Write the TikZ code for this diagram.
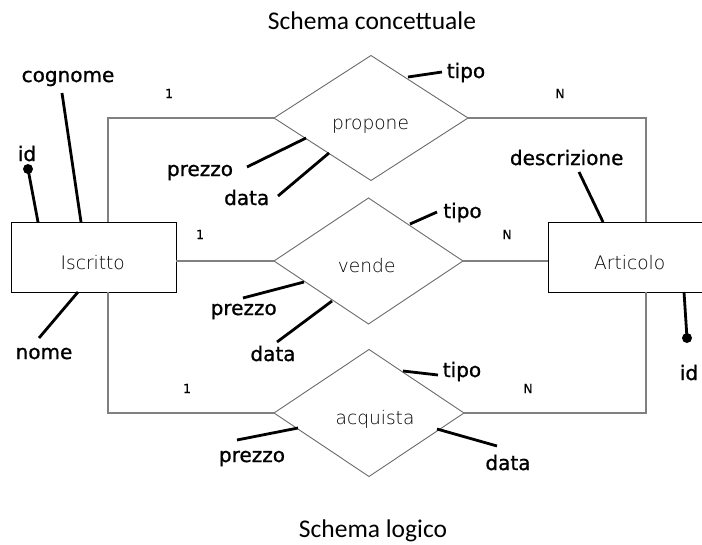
\documentclass[tikz,border=0pt]{standalone}
\usepackage{fontspec}
\usetikzlibrary{shapes.geometric}
\newfontfamily\titlefont{Carlito}
\newfontfamily\attrfont[FakeBold=1]{DejaVu Sans}
\newfontfamily\cardfont[FakeBold=0.6]{DejaVu Sans}
\IfFontExistsTF{DejaVu Sans ExtraLight}
  {\newfontfamily\thinfont{DejaVu Sans ExtraLight}}
  {\newfontfamily\thinfont{DejaVu Sans}}
\definecolor{connGray}{HTML}{808080}
\definecolor{shapeGray}{HTML}{6A6A6A}
\begin{document}
\begin{tikzpicture}[x=1pt,y=-1pt,
  entity/.style={draw=black, line width=1pt, minimum width=165pt, minimum height=70pt,
                 inner sep=0pt, outer sep=0pt},
  rel/.style={diamond, draw=shapeGray, line width=0.9pt, inner sep=0pt, outer sep=0pt},
  conn/.style={draw=connGray, line width=1.5pt},
  attr/.style={draw=black, line width=2.8pt},
  dotend/.style={circle, fill=black, inner sep=0pt, minimum size=10pt},
  shapetext/.style={anchor=base, inner sep=0pt, text=black,
                    font=\thinfont\fontsize{18.6}{18.6}\selectfont},
  alabel/.style={anchor=base, inner sep=0pt, font=\attrfont\fontsize{20}{20}\selectfont},
  card/.style={anchor=base, inner sep=0pt, font=\cardfont\fontsize{12.5}{12.5}\selectfont},
  title/.style={anchor=base, inner sep=0pt, font=\titlefont\fontsize{25.5}{25.5}\selectfont}]
\useasboundingbox (0,0) rectangle (702,544);
\clip (0,0) rectangle (702,544);

% titles
\node[title] (t1) at (372,29) {Schema concettuale};
\node[title] (t2) at (373,537) {Schema logico};

% entities
\node[entity] (isc) at (93.5,257) {};
\node[entity] (art) at (630.5,257) {};
\node[shapetext] (iscT) at (92.7,269) {Iscritto};
\node[shapetext] (artT) at (629.7,269) {Articolo};

% relationships
\node[rel, minimum width=194pt, minimum height=125pt] (prop) at (371,118) {};
\node[rel, minimum width=189pt, minimum height=126pt] (vend) at (368.5,261) {};
\node[rel, minimum width=190pt, minimum height=127pt] (acq) at (369,413) {};
\node[shapetext] (propT) at (370.5,129) {propone};
\node[shapetext] (vendT) at (366.7,272) {vende};
\node[shapetext] (acqT) at (375,424) {acquista};

% connector guide columns
\coordinate (colL) at (108,0);
\coordinate (colR) at (646,0);

% connectors
\draw[conn] (isc.north -| colL) |- (prop.west);
\draw[conn] (prop.east) -| (art.north -| colR);
\draw[conn] (vend.west -| isc.east) -- (vend.west);
\draw[conn] (vend.east) -- (vend.east -| art.west);
\draw[conn] (isc.south -| colL) |- (acq.west);
\draw[conn] (acq.east) -| (art.south -| colR);

% cardinalities
\node[card] (c1) at (169,98) {1};
\node[card] (c2) at (560,98) {N};
\node[card] (c3) at (200,239) {1};
\node[card] (c4) at (507,239) {N};
\node[card] (c5) at (187,393) {1};
\node[card] (c6) at (528,393) {N};

% attributes of Iscritto
\node[alabel] (cog) at (68,82) {cognome};
\coordinate (cogA) at (62,93);
\coordinate (cogB) at (81,222);
\draw[attr] (cogA) -- (cogB);
\node[alabel] (idL) at (27,161) {id};
\node[dotend] (idLd) at (28,169) {};
\coordinate (idLB) at (38,222);
\draw[attr] (idLd.center) -- (idLB);
\node[alabel] (nome) at (44,359) {nome};
\coordinate (nomeA) at (39,338);
\coordinate (nomeB) at (78,292);
\draw[attr] (nomeA) -- (nomeB);

% attributes of Articolo
\node[alabel] (descr) at (566.7,165) {descrizione};
\coordinate (descrA) at (579,172);
\coordinate (descrB) at (603,222);
\draw[attr] (descrA) -- (descrB);
\node[alabel] (idR) at (689,380) {id};
\node[dotend] (idRd) at (687,338) {};
\coordinate (idRB) at (684,292);
\draw[attr] (idRB) -- (idRd.center);

% attributes of propone
\node[alabel] (tipo1) at (466,78) {tipo};
\coordinate (tipo1A) at (408,77);
\coordinate (tipo1B) at (442,72);
\draw[attr] (tipo1A) -- (tipo1B);
\node[alabel] (prez1) at (200,176) {prezzo};
\coordinate (prez1A) at (247,167);
\coordinate (prez1B) at (306,138);
\draw[attr] (prez1A) -- (prez1B);
\node[alabel] (data1) at (246.7,205) {data};
\coordinate (data1A) at (278,196);
\coordinate (data1B) at (329,153);
\draw[attr] (data1A) -- (data1B);

% attributes of vende
\node[alabel] (tipo2) at (462.5,218) {tipo};
\coordinate (tipo2A) at (410,224);
\coordinate (tipo2B) at (437,212);
\draw[attr] (tipo2A) -- (tipo2B);
\node[alabel] (prez2) at (243.7,315) {prezzo};
\coordinate (prez2A) at (243,298);
\coordinate (prez2B) at (304,282);
\draw[attr] (prez2A) -- (prez2B);
\node[alabel] (data2) at (273,361) {data};
\coordinate (data2A) at (277,342);
\coordinate (data2B) at (332,301);
\draw[attr] (data2A) -- (data2B);

% attributes of acquista
\node[alabel] (tipo3) at (462,377) {tipo};
\coordinate (tipo3A) at (403,371);
\coordinate (tipo3B) at (438,375);
\draw[attr] (tipo3A) -- (tipo3B);
\node[alabel] (prez3) at (252,462) {prezzo};
\coordinate (prez3A) at (237,440);
\coordinate (prez3B) at (298,428);
\draw[attr] (prez3A) -- (prez3B);
\node[alabel] (data3) at (508,470) {data};
\coordinate (data3A) at (437,429);
\coordinate (data3B) at (497,446);
\draw[attr] (data3A) -- (data3B);
\end{tikzpicture}
\end{document}
